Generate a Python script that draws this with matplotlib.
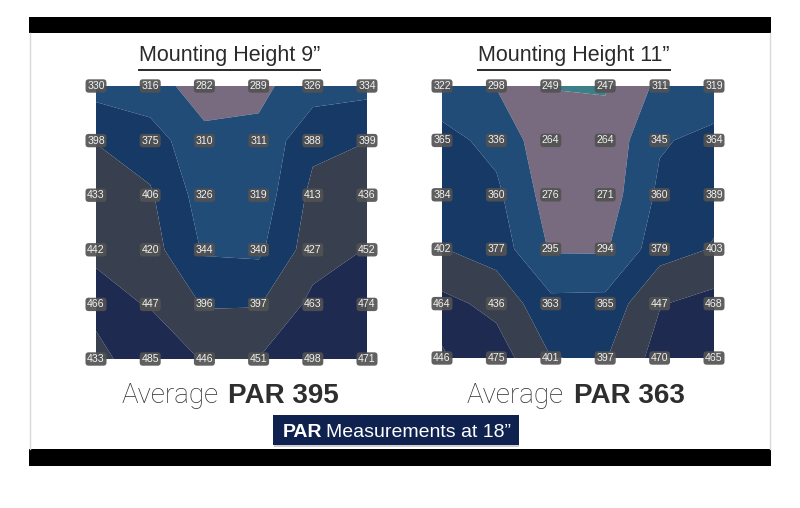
import matplotlib
matplotlib.use("Agg")
import matplotlib.pyplot as plt
import numpy as np
from matplotlib.patches import Rectangle
from matplotlib.lines import Line2D

# ---------------- data ----------------
titles = ["Mounting Height 9”", "Mounting Height 11”"]
par_9 = [
    [330, 316, 282, 289, 326, 334],
    [398, 375, 310, 311, 388, 399],
    [433, 406, 326, 319, 413, 436],
    [442, 420, 344, 340, 427, 452],
    [466, 447, 396, 397, 463, 474],
    [433, 485, 446, 451, 498, 471],
]
par_11 = [
    [322, 298, 249, 247, 311, 319],
    [365, 336, 264, 264, 345, 364],
    [384, 360, 276, 271, 360, 389],
    [402, 377, 295, 294, 379, 403],
    [464, 436, 363, 365, 447, 468],
    [446, 475, 401, 397, 470, 465],
]
averages = [395, 363]
levels = [200, 250, 300, 350, 400, 450, 500]
band_colors = ["#3d7f88", "#786b7f", "#214c77", "#163965", "#383f4e", "#1f2a50"]
footer_bold = "PAR"
footer_rest = "Measurements at 18”"

# ---------------- figure ----------------
W, H = 800, 508
fig = plt.figure(figsize=(W / 100, H / 100), dpi=100)
fig.patch.set_facecolor("white")
FONT = "Liberation Sans"


def fx(px):
    return px / W


def fy(py):
    return 1 - py / H


# frame: black bars and thin side lines
for (y0, y1) in [(17, 33), (449, 466)]:
    fig.patches.append(Rectangle((fx(29), fy(y1)), fx(771) - fx(29), fy(y0) - fy(y1),
                                 transform=fig.transFigure, fc="black", ec="none"))
for x in (30, 770):
    fig.lines.append(Line2D([fx(x), fx(x)], [fy(33), fy(449)], transform=fig.transFigure,
                            color="#d9d9d9", lw=1))

# maps
boxes = [(96, 86, 367, 359), (442, 86, 714, 358)]
for data, (l, t, r, b) in zip([par_9, par_11], boxes):
    ax = fig.add_axes([fx(l), fy(b), fx(r) - fx(l), fy(t) - fy(b)])
    Z = np.array(data, dtype=float)
    X, Y = np.meshgrid(np.arange(Z.shape[1]), np.arange(Z.shape[0]))
    ax.contourf(X, Y, Z, levels=levels, colors=band_colors, antialiased=True)
    ax.set_xlim(0, Z.shape[1] - 1)
    ax.set_ylim(Z.shape[0] - 1, 0)
    ax.axis("off")
    for i in range(Z.shape[0]):
        for j in range(Z.shape[1]):
            ax.text(j, i, str(int(Z[i, j])), ha="center", va="center", fontsize=7.6,
                    color="#f2f2f2", family=FONT, clip_on=False, zorder=5,
                    bbox=dict(boxstyle="round,pad=0.16,rounding_size=0.3",
                              fc="#525252", ec="none", alpha=0.92))

fig.canvas.draw()
renderer = fig.canvas.get_renderer()


def draw_parts(xc, ybase, parts, gap_px):
    """parts: list of (text, kwargs); placed side by side, centered at xc (px)."""
    objs = []
    for s, kw in parts:
        o = fig.text(0, fy(ybase), s, va="baseline", ha="left", **kw)
        objs.append(o)
    widths = [o.get_window_extent(renderer).width for o in objs]
    total = sum(widths) + gap_px * (len(objs) - 1)
    x = xc - total / 2
    for o, w in zip(objs, widths):
        o.set_x(fx(x))
        x += w + gap_px
    return objs


# titles with underline
for title, xc in zip(titles, [229.5, 574]):
    t = fig.text(fx(xc), fy(61), title, ha="center", va="baseline", fontsize=15.5,
                 color="#2a2a2a", family=FONT)
    bb = t.get_window_extent(renderer)
    fig.lines.append(Line2D([bb.x0 / W, bb.x1 / W], [fy(69.5), fy(69.5)],
                            transform=fig.transFigure, color="#2a2a2a", lw=1.4))

# averages
for avg, xc in zip(averages, [230, 575.5]):
    draw_parts(xc, 403, [("Average", dict(fontsize=20, color="#2e2e2e", family="Roboto", weight="light")),
                         (f"PAR {avg}", dict(fontsize=20, color="#2e2e2e", family=FONT, weight="bold"))],
               gap_px=10)

# footer box
fig.patches.append(Rectangle((fx(274), fy(447)), fx(519) - fx(274), fy(415) - fy(417),
                             transform=fig.transFigure, fc="#cfcfcf", ec="none"))
fig.patches.append(Rectangle((fx(273), fy(445)), fx(519) - fx(273), fy(415) - fy(445),
                             transform=fig.transFigure, fc="#0e214f", ec="none"))
draw_parts(397, 437, [(footer_bold, dict(fontsize=14, color="white", family=FONT, weight="bold")),
                      (footer_rest, dict(fontsize=14, color="white", family=FONT))],
           gap_px=4)

fig.savefig("out.png", dpi=100, facecolor="white")
